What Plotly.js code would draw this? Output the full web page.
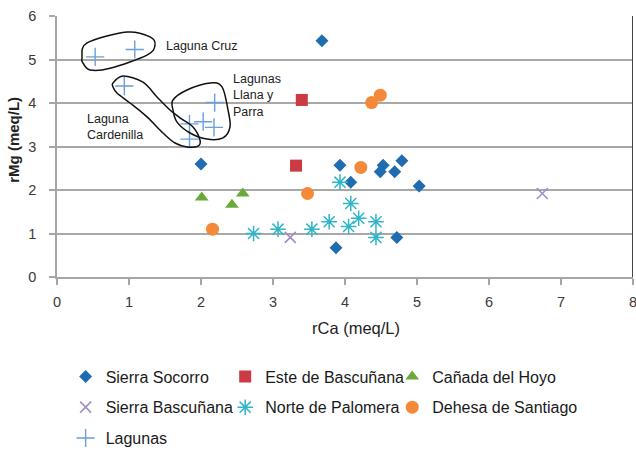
<!DOCTYPE html>
<html>
<head>
<meta charset="utf-8">
<script src="https://cdn.plot.ly/plotly-3.0.1.min.js"></script>
<style>html,body{margin:0;padding:0;background:#fff;}#chart{width:636px;height:451px;}</style>
</head>
<body>
<div id="chart"></div>
<script>
// ---- data (rCa, rMg in meq/L) ----
const seriesNames = ["Sierra Socorro", "Este de Bascuñana", "Cañada del Hoyo", "Sierra Bascuñana", "Norte de Palomera", "Dehesa de Santiago", "Lagunas"];
const socorroCa = [3.68, 2.00, 3.93, 4.08, 4.53, 4.49, 4.69, 4.79, 5.03, 4.72, 3.875];
const socorroMg = [5.43, 2.60, 2.57, 2.18, 2.57, 2.42, 2.42, 2.67, 2.09, 0.91, 0.67];
const esteCa = [3.40, 3.32];
const esteMg = [4.07, 2.56];
const canadaCa = [2.01, 2.43, 2.58];
const canadaMg = [1.83, 1.66, 1.92];
const sbascCa = [3.24, 6.74];
const sbascMg = [0.91, 1.92];
const norteCa = [2.73, 3.07, 3.54, 3.78, 3.93, 4.08, 4.05, 4.19, 4.43, 4.43];
const norteMg = [1.00, 1.10, 1.10, 1.27, 2.18, 1.69, 1.16, 1.35, 1.27, 0.91];
const dehesaCa = [2.16, 3.48, 4.22, 4.37, 4.49];
const dehesaMg = [1.10, 1.92, 2.52, 4.01, 4.18];
const lagunasCa = [0.53, 1.08, 0.935, 2.19, 1.84, 2.03, 2.18, 1.84];
const lagunasMg = [5.06, 5.23, 4.39, 4.01, 3.52, 3.57, 3.44, 3.17];
const xTicks = [0, 1, 2, 3, 4, 5, 6, 7, 8];
const yTicks = [0, 1, 2, 3, 4, 5, 6];
const xTitle = "rCa (meq/L)";
const yTitle = "rMg (meq/L)";

// ---- hand-drawn outlines (decoration) ----
const cruzOutline = [[0.347,5.03],[0.417,5.38],[0.972,5.63],[1.292,5.52],[1.361,5.33],[1.25,5.10],[0.736,4.80],[0.458,4.76],[0.361,4.92]];
const cardenillaOutline = [[0.778,4.46],[0.917,4.62],[1.194,4.48],[1.389,4.14],[1.569,3.84],[1.708,3.66],[1.889,3.45],[1.986,3.15],[1.958,3.01],[1.806,2.99],[1.639,3.08],[1.472,3.31],[1.25,3.68],[1.014,4.00],[0.833,4.23],[0.778,4.37]];
const llanaOutline = [[1.611,4.07],[1.806,4.30],[2.125,4.46],[2.292,4.37],[2.375,3.84],[2.403,3.45],[2.306,3.20],[2.083,3.17],[1.847,3.31],[1.667,3.56],[1.611,3.84]];

function smoothClosed(pts){
  const n = pts.length;
  let d = "M " + pts[0][0] + "," + pts[0][1];
  for (let i = 0; i < n; i++){
    const p0 = pts[(i-1+n)%n], p1 = pts[i], p2 = pts[(i+1)%n], p3 = pts[(i+2)%n];
    const c1 = [p1[0] + (p2[0]-p0[0])/6, p1[1] + (p2[1]-p0[1])/6];
    const c2 = [p2[0] - (p3[0]-p1[0])/6, p2[1] - (p3[1]-p1[1])/6];
    d += " C " + c1[0] + "," + c1[1] + " " + c2[0] + "," + c2[1] + " " + p2[0] + "," + p2[1];
  }
  return d + " Z";
}

const font = "Liberation Sans, Arial, sans-serif";
function tr(name, x, y, marker, legend, group){
  return {type:"scatter", mode:"markers", name:name, x:x, y:y, marker:marker, legend:legend, legendgroup:group, cliponaxis:false};
}
const traces = [
  tr(seriesNames[0], socorroCa, socorroMg, {symbol:"diamond", size:10, color:"#1f6db0"}, "legend", "g1"),
  tr(seriesNames[3], sbascCa, sbascMg, {symbol:"x-thin-open", size:11, color:"#a28dc6", line:{width:1.6, color:"#a28dc6"}}, "legend", "g2"),
  tr(seriesNames[6], lagunasCa, lagunasMg, {symbol:"cross-thin-open", size:13, color:"#6a9fd8", line:{width:1.4, color:"#6a9fd8"}}, "legend", "g3"),
  tr(seriesNames[1], esteCa, esteMg, {symbol:"square", size:12, color:"#cc3a43"}, "legend2", "g4"),
  tr(seriesNames[4], norteCa, norteMg, {symbol:"asterisk-open", size:13, color:"#2fb5c8", line:{width:1.5, color:"#2fb5c8"}}, "legend2", "g5"),
  tr(seriesNames[2], canadaCa, canadaMg, {symbol:"triangle-up", size:12, color:"#6aaa3a"}, "legend3", "g6"),
  tr(seriesNames[5], dehesaCa, dehesaMg, {symbol:"circle", size:13, color:"#f5893a"}, "legend3", "g7")
];

const legBase = {orientation:"v", xanchor:"left", yanchor:"top", y:-0.316, bgcolor:"rgba(0,0,0,0)",
  font:{family:font, size:16, color:"#1a1a1a"}, tracegroupgap:7, itemclick:false, itemdoubleclick:false};

const layout = {
  width:636, height:451,
  margin:{l:57, r:3, t:16, b:174, autoexpand:false},
  paper_bgcolor:"#fff", plot_bgcolor:"#fff",
  showlegend:true,
  legend:Object.assign({}, legBase, {x:0.015}),
  legend2:Object.assign({}, legBase, {x:0.292}),
  legend3:Object.assign({}, legBase, {x:0.582}),
  xaxis:{range:[0,8], tickvals:xTicks, showgrid:false, zeroline:false, showline:true, linecolor:"#a6a6a6", linewidth:1.5,
    ticks:"outside", ticklen:6, tickcolor:"#a6a6a6", tickwidth:1.5, ticklabelstandoff:5, ticklabeloverflow:"allow",
    tickfont:{family:font, size:14.5, color:"#3a3a3a"}},
  yaxis:{range:[0,6], tickvals:yTicks, showgrid:true, gridcolor:"#a8a8a8", gridwidth:1.5, zeroline:false, showline:true, linecolor:"#a6a6a6", linewidth:1.5,
    ticks:"outside", ticklen:6, tickcolor:"#a6a6a6", tickwidth:1.5, ticklabelstandoff:10,
    tickfont:{family:font, size:14.5, color:"#3a3a3a"}},
  shapes:[
    {type:"line", xref:"x", yref:"y", x0:8, x1:8, y0:0, y1:6, line:{color:"#444", width:2}},
    {type:"path", xref:"x", yref:"y", path:smoothClosed(cruzOutline), line:{color:"#111", width:1.5}},
    {type:"path", xref:"x", yref:"y", path:smoothClosed(cardenillaOutline), line:{color:"#111", width:1.5}},
    {type:"path", xref:"x", yref:"y", path:smoothClosed(llanaOutline), line:{color:"#111", width:1.5}}
  ],
  annotations:[
    {text:xTitle, x:0.519, y:-0.195, xref:"paper", yref:"paper", xanchor:"center", yanchor:"middle", showarrow:false, font:{family:font, size:16.5, color:"#222"}},
    {text:"<b>" + yTitle + "</b>", x:-0.075, y:0.525, xref:"paper", yref:"paper", xanchor:"center", yanchor:"middle", textangle:-90, showarrow:false, font:{family:font, size:15, color:"#222"}},
    {text:"Laguna Cruz", x:1.486, y:5.31, xref:"x", yref:"y", xanchor:"left", yanchor:"middle", showarrow:false, align:"left", font:{family:font, size:12.5, color:"#222"}},
    {text:"Lagunas<br>Llana y<br>Parra", x:2.417, y:4.18, xref:"x", yref:"y", xanchor:"left", yanchor:"middle", showarrow:false, align:"left", font:{family:font, size:12.5, color:"#222"}},
    {text:"Laguna<br>Cardenilla", x:0.389, y:3.45, xref:"x", yref:"y", xanchor:"left", yanchor:"middle", showarrow:false, align:"left", font:{family:font, size:12.5, color:"#222"}}
  ]
};

Plotly.newPlot("chart", traces, layout, {displayModeBar:false});
</script>
</body>
</html>
